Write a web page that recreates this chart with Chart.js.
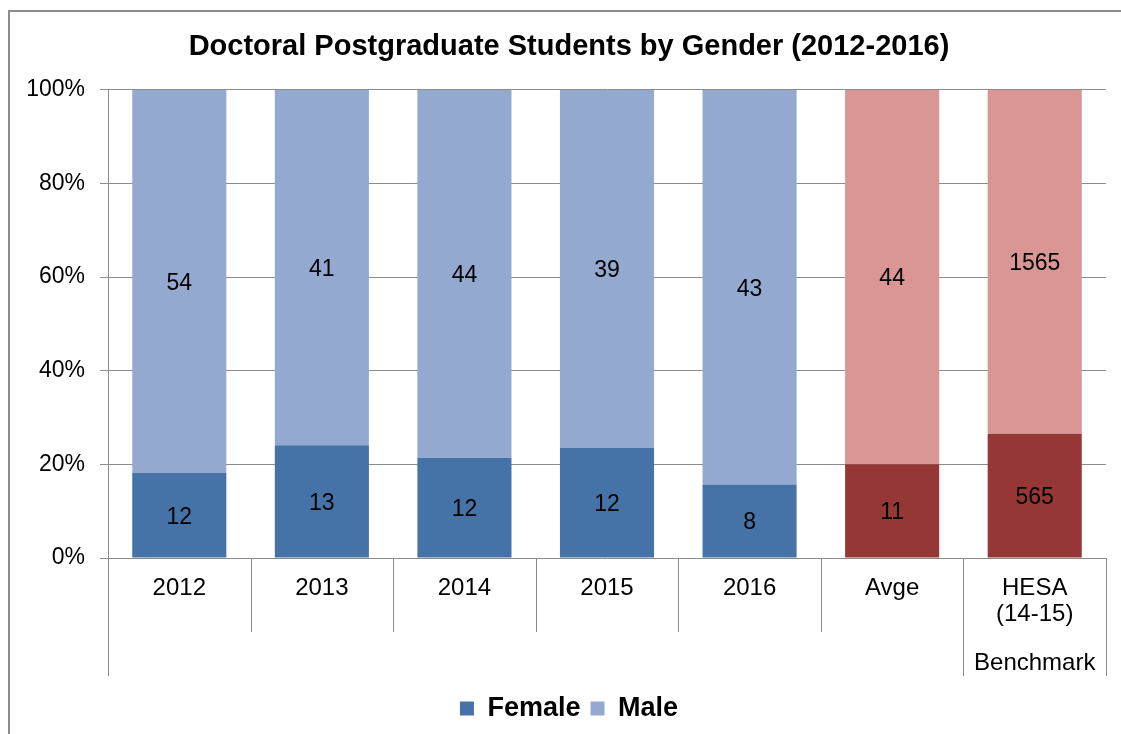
<!DOCTYPE html>
<html>
<head>
<meta charset="utf-8">
<script src="https://cdn.jsdelivr.net/npm/chart.js@4/dist/chart.umd.min.js"></script>
<style>
  html, body { margin: 0; padding: 0; background: #fff; }
  #frame { position: absolute; left: 8px; top: 10px; width: 1200px; height: 800px;
           border-left: 2px solid #8c8c8c; border-top: 2px solid #8c8c8c; }
  #wrap { position: absolute; left: 0; top: 0; width: 1121px; height: 734px; }
</style>
</head>
<body>
<div id="frame"></div>
<div id="wrap"><canvas id="myChart" width="1121" height="734"></canvas></div>
<script>
// data
const categories = ["2012", "2013", "2014", "2015", "2016", "Avge", ["HESA", "(14-15)"]];
const femaleCounts = [12, 13, 12, 12, 8, 11, 565];
const maleCounts = [54, 41, 44, 39, 43, 44, 1565];
const yTicks = [0, 20, 40, 60, 80, 100];
const groupLabel = "Benchmark";

const femaleColors = ["#4673a7", "#4673a7", "#4673a7", "#4673a7", "#4673a7", "#953735", "#953735"];
const maleColors = ["#94a9d0", "#94a9d0", "#94a9d0", "#94a9d0", "#94a9d0", "#d99694", "#d99694"];
const gridColor = "#8c8c8c";
const fontFamily = "'Liberation Sans', Arial, sans-serif";

// 100% stacked -> share of each total
const femalePct = femaleCounts.map((f, i) => f / (f + maleCounts[i]) * 100);
const malePct = maleCounts.map((m, i) => m / (femaleCounts[i] + m) * 100);

// counts written in the middle of each segment
const segmentLabels = {
  id: "segmentLabels",
  afterDatasetsDraw(chart) {
    const ctx = chart.ctx;
    const counts = [femaleCounts, maleCounts];
    ctx.save();
    ctx.fillStyle = "#000";
    ctx.font = "23px " + fontFamily;
    ctx.textAlign = "center";
    ctx.textBaseline = "middle";
    chart.data.datasets.forEach((ds, d) => {
      chart.getDatasetMeta(d).data.forEach((bar, i) => {
        ctx.fillText(counts[d][i], bar.x, (bar.y + bar.base) / 2 + 2);
      });
    });
    ctx.restore();
  }
};

// y labels drawn here so they can reach past the axis box on the left
const yLabels = {
  id: "yLabels",
  afterDraw(chart) {
    const ctx = chart.ctx;
    const y = chart.scales.y;
    ctx.save();
    ctx.fillStyle = "#000";
    ctx.font = "23px " + fontFamily;
    ctx.textAlign = "right";
    ctx.textBaseline = "middle";
    for (const v of yTicks) {
      ctx.fillText(v + "%", y.right - 23, y.getPixelForValue(v));
    }
    ctx.restore();
  }
};

// category separators and the second label row under the axis
const groupAxis = {
  id: "groupAxis",
  afterDraw(chart) {
    const ctx = chart.ctx;
    const x = chart.scales.x;
    const area = chart.chartArea;
    const n = categories.length;
    ctx.save();
    ctx.strokeStyle = gridColor;
    ctx.lineWidth = 1;
    for (let i = 0; i <= n; i++) {
      const px = Math.round(x.getPixelForValue(i - 0.5)) + 0.5;
      const long = (i === 0 || i === n - 1 || i === n);
      ctx.beginPath();
      ctx.moveTo(px, area.bottom);
      ctx.lineTo(px, long ? area.bottom + 118 : area.bottom + 74);
      ctx.stroke();
    }
    ctx.fillStyle = "#000";
    ctx.font = "24px " + fontFamily;
    ctx.textAlign = "center";
    ctx.textBaseline = "middle";
    ctx.fillText(groupLabel, x.getPixelForValue(n - 1), area.bottom + 105);
    ctx.restore();
  }
};

const ctx = document.querySelector("#myChart").getContext("2d");

const barChart = {
  type: "bar",
  data: {
    labels: categories,
    datasets: [
      {
        label: "Female",
        data: femalePct,
        backgroundColor: femaleColors,
        barPercentage: 0.66,
        categoryPercentage: 1,
      },
      {
        label: "Male",
        data: malePct,
        backgroundColor: maleColors,
        barPercentage: 0.66,
        categoryPercentage: 1,
      },
    ],
  },
  options: {
    responsive: false,
    animation: false,
    layout: { padding: { left: 32, right: 15, top: 0, bottom: 2 } },
    scales: {
      x: {
        stacked: true,
        grid: { display: false },
        border: { display: false },
        ticks: {
          color: "#000",
          font: { family: fontFamily, size: 24, lineHeight: 1.1 },
          padding: 9,
          maxRotation: 0,
          autoSkip: false,
        },
        afterFit: (scale) => { scale.height = 127; },
      },
      y: {
        stacked: true,
        min: 0,
        max: 100,
        afterBuildTicks: (scale) => { scale.ticks = yTicks.map((v) => ({ value: v })); },
        grid: { color: gridColor, tickLength: 8, tickColor: gridColor },
        border: { color: gridColor },
        ticks: { display: false },
        afterFit: (scale) => { scale.width = 76; },
      },
    },
    plugins: {
      title: {
        display: true,
        text: "Doctoral Postgraduate Students by Gender (2012-2016)",
        color: "#000",
        font: { family: fontFamily, size: 29, weight: "bold", lineHeight: 1.2 },
        padding: { top: 30, bottom: 25 },
      },
      legend: {
        position: "bottom",
        labels: {
          color: "#000",
          font: { family: fontFamily, size: 27, weight: "bold" },
          boxWidth: 14,
          boxHeight: 14,
          padding: 10,
        },
      },
      tooltip: { enabled: false },
    },
  },
  plugins: [segmentLabels, yLabels, groupAxis],
};

const resultsChart = new Chart(ctx, barChart);
</script>
</body>
</html>
